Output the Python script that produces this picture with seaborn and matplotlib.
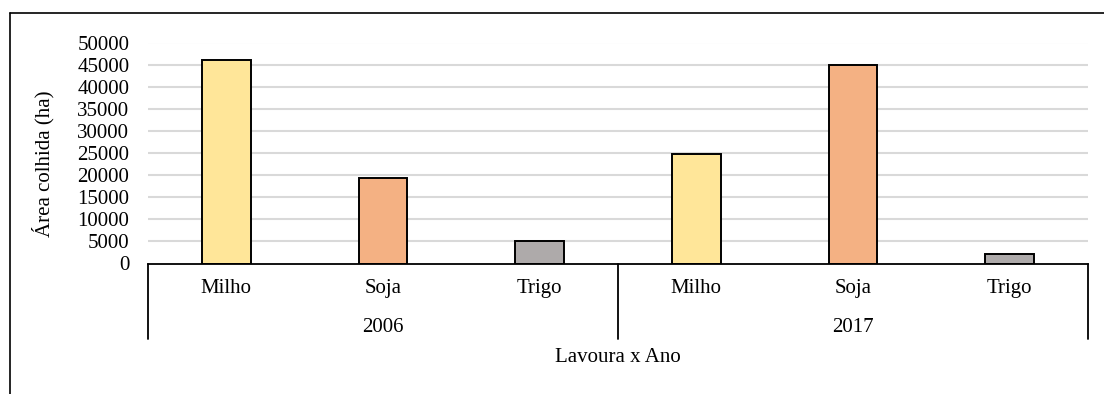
import matplotlib
matplotlib.use("Agg")
import matplotlib.pyplot as plt
from matplotlib.lines import Line2D
import seaborn as sns
import pandas as pd

# ---- data ----
crops = ["Milho", "Soja", "Trigo", "Milho", "Soja", "Trigo"]
years = ["2006", "2006", "2006", "2017", "2017", "2017"]
area_ha = [46000, 19400, 5000, 24800, 44900, 2100]
yticks = [0, 5000, 10000, 15000, 20000, 25000, 30000, 35000, 40000, 45000, 50000]
colors = {"Milho": "#FFE699", "Soja": "#F4B183", "Trigo": "#AEAAAA"}

df = pd.DataFrame({
    "key": [f"{c} {y}" for c, y in zip(crops, years)],
    "crop": crops,
    "year": years,
    "area": area_ha,
})

sns.set_theme(style="white")
plt.rcParams["font.family"] = ["Liberation Serif", "DejaVu Serif"]
plt.rcParams["text.color"] = "black"
plt.rcParams["xtick.color"] = "black"
plt.rcParams["ytick.color"] = "black"

W, H = 1104, 394
fig = plt.figure(figsize=(W / 100, H / 100), dpi=100)
ax = fig.add_axes([148 / W, 1 - 263.5 / H, (1088 - 148) / W, (263.5 - 42.5) / H])

sns.barplot(data=df, x="key", y="area", hue="crop", palette=colors, dodge=False,
            width=0.31, edgecolor="black", linewidth=1.4, legend=False, ax=ax,
            order=list(df["key"]), saturation=1)

ax.set_xlim(-0.5, 5.5)
ax.set_ylim(0, 50000)
ax.set_yticks(yticks)
ax.set_yticklabels([str(v) for v in yticks], fontsize=15, color="black")
ax.tick_params(axis="y", length=0, pad=13.5)
ax.tick_params(axis="x", length=0, pad=11)
ax.set_xticks(range(len(crops)))
ax.set_xticklabels(crops, fontsize=15, color="black")
ax.set_xlabel("")
ax.set_ylabel("")

for v in yticks[1:]:
    ax.axhline(v, color="#D9D9D9", linewidth=1.5, zorder=0)

for s in ["top", "right", "left"]:
    ax.spines[s].set_visible(False)
ax.spines["bottom"].set_color("black")
ax.spines["bottom"].set_linewidth(1.3)

# group divider lines below the axis
low = -(339 - 263.5) / (263.5 - 42.5)
for xp in [-0.5, 2.5, 5.5]:
    ax.plot([xp, xp], [0, low], color="black", linewidth=1.3, clip_on=False,
            transform=ax.get_xaxis_transform())

# year labels
ytxt = -(328 - 263.5) / (263.5 - 42.5)
for xc, yr in [(1, "2006"), (4, "2017")]:
    ax.text(xc, ytxt, yr, ha="center", va="center", fontsize=15, color="black",
            transform=ax.get_xaxis_transform())

fig.text(617.5 / W, 1 - 357 / H, "Lavoura x Ano", ha="center", va="center",
         fontsize=15, color="black")
fig.text(43 / W, 1 - 164 / H, "Área colhida (ha)", ha="center", va="center",
         rotation=90, fontsize=15, color="black")

# outer frame (top and left visible)
fig.add_artist(Line2D([10 / W, 10 / W], [0, 1 - 13 / H], color="black", linewidth=1.2,
                      transform=fig.transFigure))
fig.add_artist(Line2D([10 / W, 1], [1 - 13 / H, 1 - 13 / H], color="black", linewidth=1.2,
                      transform=fig.transFigure))

fig.savefig("out.png", dpi=100)
